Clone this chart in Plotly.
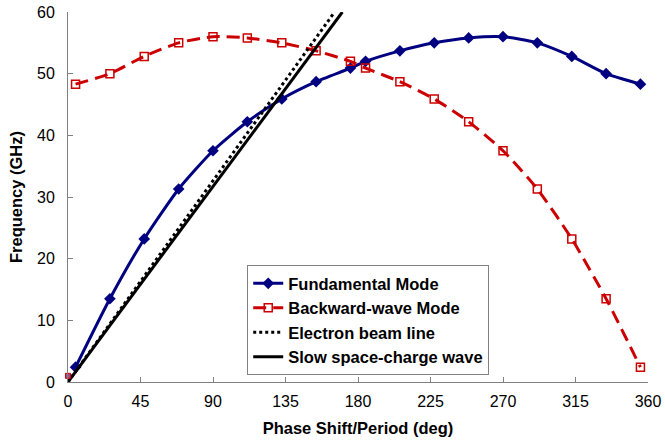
import plotly.graph_objects as go

phase = [4.7, 26.0, 47.3, 68.7, 90.0, 111.3, 132.7, 154.0, 175.3, 184.7,
         206.0, 227.3, 248.7, 270.0, 291.3, 312.7, 334.0, 355.3]
fundamental = [2.4, 13.5, 23.2, 31.3, 37.5, 42.2, 45.9, 48.7, 50.9, 52.0,
               53.7, 55.0, 55.8, 56.0, 55.0, 52.8, 50.0, 48.3]
backward = [48.3, 50.0, 52.8, 55.0, 56.0, 55.8, 55.0, 53.7, 52.0, 50.9,
            48.7, 45.9, 42.2, 37.5, 31.3, 23.2, 13.5, 2.4]
beam_x = [0.0, 165.5]
beam_y = [0.0, 60.0]
slow_x = [0.0, 170.3]
slow_y = [0.0, 60.0]
origin_x = [0.0]
origin_y = [1.0]
x_ticks = [0, 45, 90, 135, 180, 225, 270, 315, 360]
y_ticks = [0, 10, 20, 30, 40, 50, 60]

FONT = "Liberation Sans, Arial, sans-serif"
BLUE = "#000080"
RED = "#cc0000"

fig = go.Figure()
fig.add_trace(go.Scatter(
    x=phase, y=fundamental, name="Fundamental Mode", mode="lines+markers",
    line=dict(color=BLUE, width=3, shape="spline", smoothing=0.6),
    marker=dict(symbol="diamond", size=9, color=BLUE)))
fig.add_trace(go.Scatter(
    x=phase, y=backward, name="Backward-wave Mode", mode="lines+markers",
    line=dict(color=RED, width=3, dash="13px,7px", shape="spline", smoothing=0.6),
    marker=dict(symbol="square-open", size=8, color=RED, line=dict(width=1.5))))
fig.add_trace(go.Scatter(
    x=beam_x, y=beam_y, name="Electron beam line", mode="lines",
    line=dict(color="black", width=3, dash="dot")))
fig.add_trace(go.Scatter(
    x=slow_x, y=slow_y, name="Slow space-charge wave", mode="lines",
    line=dict(color="black", width=3)))
fig.add_trace(go.Scatter(
    x=origin_x, y=origin_y, mode="markers", showlegend=False, cliponaxis=False,
    marker=dict(symbol="square", size=5, color="#a05090",
                line=dict(color=RED, width=1))))

axis_common = dict(
    showgrid=False, zeroline=False, showline=True, linecolor="#808080",
    linewidth=1, ticks="inside", ticklen=5, tickcolor="#808080",
    automargin=False,
    tickfont=dict(family=FONT, size=16, color="black"))

fig.update_xaxes(range=[0, 360], tickvals=x_ticks, **axis_common,
                 ticklabelstandoff=5,
                 title=dict(text="<b>Phase Shift/Period (deg)</b>",
                            font=dict(family=FONT, size=16.5, color="black"),
                            standoff=13))
fig.update_yaxes(range=[0, 60], tickvals=y_ticks, **axis_common,
                 ticklabelstandoff=9,
                 title=dict(text="<b>Frequency (GHz)</b>",
                            font=dict(family=FONT, size=16.5, color="black"),
                            standoff=10))

fig.update_layout(
    width=665, height=445,
    margin=dict(l=68, r=17, t=12, b=63),
    plot_bgcolor="white", paper_bgcolor="white",
    legend=dict(x=0.309, y=0.316, xanchor="left", yanchor="top",
                bordercolor="#808080", borderwidth=1, bgcolor="white",
                font=dict(family=FONT, size=16.5, color="black", weight="bold"),
                tracegroupgap=0, itemwidth=30),
    font=dict(family=FONT),
)

fig.write_html("out.html")
